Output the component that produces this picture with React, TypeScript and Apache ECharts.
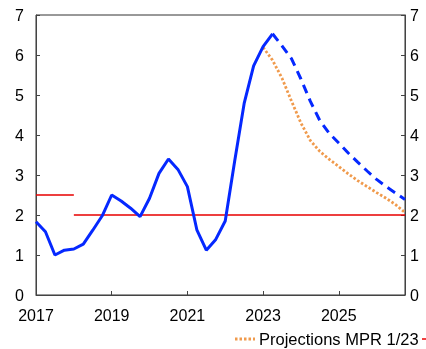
import React, { useEffect, useRef } from "react";
import * as echarts from "echarts";

const years = [2017, 2018, 2019, 2020, 2021, 2022, 2023, 2024, 2025, 2026];
const quarters: string[] = [];
years.forEach((y) => [1, 2, 3, 4].forEach((q) => quarters.push(`${y}Q${q}`)));

// CPI-ATE actual (2017Q1 - 2023Q2)
const actual = [1.83, 1.58, 1.0, 1.12, 1.15, 1.27, 1.62, 1.98, 2.5, 2.35, 2.17, 1.96, 2.42, 3.04, 3.4, 3.14, 2.71, 1.63, 1.12, 1.39, 1.85, 3.35, 4.79, 5.73, 6.21, 6.53];
// projection (2023Q2 - 2026Q4)
const projection = [6.53, 6.23, 5.91, 5.4, 4.84, 4.36, 4.04, 3.8, 3.55, 3.32, 3.1, 2.89, 2.71, 2.55, 2.39];
// Projections MPR 1/23 (2023Q1 - 2026Q4)
const mpr = [6.19, 5.87, 5.42, 4.85, 4.3, 3.86, 3.59, 3.39, 3.21, 3.03, 2.86, 2.71, 2.56, 2.42, 2.26, 2.06];
// inflation target
const targetOld = [2.5, 2.5, 2.5, 2.5, 2.5];
const targetNew = 2.0;

const yTicks = [0, 1, 2, 3, 4, 5, 6, 7];
const legendLabel = "Projections MPR 1/23";

const BLUE = "#0528ff";
const ORANGE = "#f09a4c";
const RED = "#e80000";

function pad(arr: number[], start: number): (number | null)[] {
  const out: (number | null)[] = quarters.map(() => null);
  arr.forEach((v, i) => (out[start + i] = v));
  return out;
}

export default function App() {
  const ref = useRef<HTMLDivElement>(null);
  useEffect(() => {
    if (!ref.current) return;
    const chart = echarts.init(ref.current, null, { renderer: "svg" });
    const font = "Liberation Sans, Arial, sans-serif";
    const axisCommon = {
      axisLine: { show: true, lineStyle: { color: "#444", width: 1 } },
      axisTick: { show: true, inside: true, length: 4, lineStyle: { color: "#444" } },
      splitLine: { show: false },
    };
    const newTarget = quarters.map((_, i) => (i >= 4 ? targetNew : null));
    chart.setOption({
      animation: false,
      textStyle: { fontFamily: font },
      grid: { left: 36, right: 21, top: 15, bottom: 54, show: true, borderColor: "#333", borderWidth: 1, backgroundColor: "transparent" },
      xAxis: {
        type: "category",
        data: quarters,
        boundaryGap: false,
        ...axisCommon,
        axisTick: { show: true, inside: true, length: 4, interval: 7, lineStyle: { color: "#444" } },
        axisLabel: {
          interval: 7,
          margin: 12,
          fontSize: 16,
          color: "#000",
          fontFamily: font,
          formatter: (v: string) => v.slice(0, 4),
        },
      },
      yAxis: [
        {
          type: "value",
          min: yTicks[0],
          max: yTicks[yTicks.length - 1],
          interval: 1,
          position: "left",
          ...axisCommon,
          axisLabel: { margin: 12, fontSize: 16, color: "#000", fontFamily: font },
        },
        {
          type: "value",
          min: yTicks[0],
          max: yTicks[yTicks.length - 1],
          interval: 1,
          position: "right",
          ...axisCommon,
          axisLabel: { margin: 5, fontSize: 16, color: "#000", fontFamily: font },
        },
      ],
      series: [
        {
          name: "Inflation target old",
          type: "line",
          data: pad(targetOld, 0),
          symbol: "none",
          lineStyle: { color: RED, width: 1.5 },
          z: 1,
        },
        {
          name: "Inflation target",
          type: "line",
          data: newTarget,
          symbol: "none",
          lineStyle: { color: RED, width: 1.5 },
          z: 1,
        },
        {
          name: legendLabel,
          type: "line",
          data: pad(mpr, 24),
          symbol: "none",
          lineStyle: { color: ORANGE, width: 2.8, type: [2.5, 2] },
          z: 2,
        },
        {
          name: "CPI-ATE projection",
          type: "line",
          data: pad(projection, 25),
          symbol: "none",
          lineStyle: { color: BLUE, width: 3, type: [9, 6] },
          z: 3,
        },
        {
          name: "CPI-ATE",
          type: "line",
          data: pad(actual, 0),
          symbol: "none",
          lineStyle: { color: BLUE, width: 3 },
          z: 4,
        },
      ],
      graphic: [
        { type: "line", shape: { x1: 235, y1: 339, x2: 255, y2: 339 }, style: { stroke: ORANGE, lineWidth: 2.8, lineDash: [2.5, 2] } },
        { type: "text", x: 259, y: 339, style: { text: legendLabel, fontSize: 16.5, fontFamily: font, fill: "#000", verticalAlign: "middle", align: "left" } },
        { type: "line", shape: { x1: 422, y1: 339, x2: 426, y2: 339 }, style: { stroke: RED, lineWidth: 1.5 } },
      ],
    });
    return () => chart.dispose();
  }, []);
  return <div ref={ref} style={{ position: "fixed", left: 0, top: 0, width: 426, height: 349 }} />;
}
